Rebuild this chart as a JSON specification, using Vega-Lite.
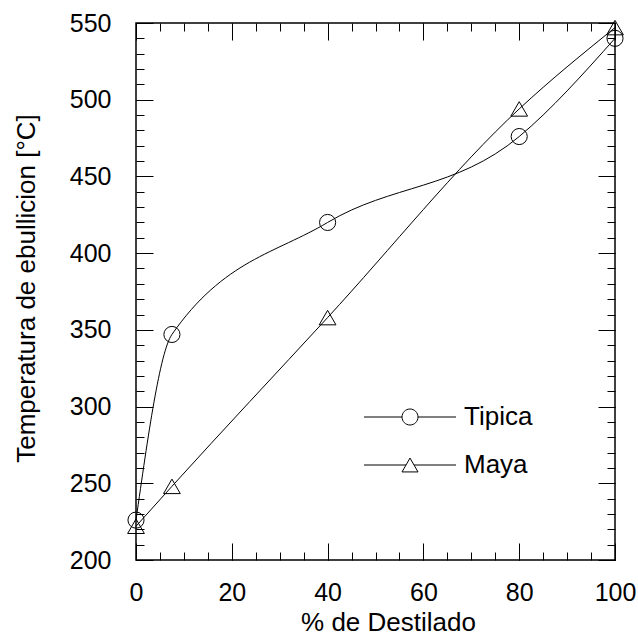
{
  "$schema": "https://vega.github.io/schema/vega-lite/v6.json",
  "width": 479,
  "height": 537,
  "autosize": {"type": "none"},
  "padding": {"left": 136, "top": 23, "right": 23, "bottom": 76},
  "background": "white",
  "config": {
    "font": "Liberation Sans",
    "view": {"stroke": "black", "strokeWidth": 1.5},
    "axis": {
      "domain": false, "grid": false, "tickColor": "black", "tickWidth": 1,
      "labelColor": "black", "titleColor": "black", "labelFontSize": 25,
      "titleFontSize": 26, "titleFontWeight": "normal", "labelFont": "Liberation Sans",
      "titleFont": "Liberation Sans", "labelFlush": false, "labelOverlap": false
    }
  },
  "data": {
    "values": [
      {"serie": "Tipica", "x": 0, "y": 226},
      {"serie": "Tipica", "x": 7.5, "y": 347},
      {"serie": "Tipica", "x": 40, "y": 420},
      {"serie": "Tipica", "x": 80, "y": 476},
      {"serie": "Tipica", "x": 100, "y": 540},
      {"serie": "Maya", "x": 0, "y": 222},
      {"serie": "Maya", "x": 7.5, "y": 248},
      {"serie": "Maya", "x": 40, "y": 358},
      {"serie": "Maya", "x": 80, "y": 494},
      {"serie": "Maya", "x": 100, "y": 547}
    ]
  },
  "resolve": {"axis": {"x": "independent", "y": "independent"}},
  "layer": [
    {
      "transform": [{"filter": "datum.serie == 'Tipica'"}],
      "mark": {"type": "line", "interpolate": "monotone", "color": "black", "strokeWidth": 1},
      "encoding": {
        "x": {"field": "x", "type": "quantitative", "scale": {"domain": [0, 100], "nice": false, "zero": false},
          "axis": {"orient": "bottom", "values": [0, 20, 40, 60, 80, 100], "tickSize": -17, "labelPadding": 37,
            "title": "% de Destilado", "titleX": 252, "titleY": 70, "titleBaseline": "alphabetic"}},
        "y": {"field": "y", "type": "quantitative", "scale": {"domain": [200, 550], "nice": false, "zero": false},
          "axis": {"orient": "left", "values": [200, 250, 300, 350, 400, 450, 500, 550], "tickSize": -17, "labelPadding": 42,
            "title": "Temperatura de ebullicion [°C]", "titleX": -102, "titleY": 265, "titleBaseline": "alphabetic"}}
      }
    },
    {
      "transform": [{"filter": "datum.serie == 'Maya'"}],
      "mark": {"type": "line", "interpolate": "monotone", "color": "black", "strokeWidth": 1},
      "encoding": {
        "x": {"field": "x", "type": "quantitative",
          "axis": {"orient": "bottom", "values": [0, 5, 10, 15, 20, 25, 30, 35, 40, 45, 50, 55, 60, 65, 70, 75, 80, 85, 90, 95, 100], "tickSize": -8, "labels": false, "title": null}},
        "y": {"field": "y", "type": "quantitative",
          "axis": {"orient": "left", "values": [200, 210, 220, 230, 240, 250, 260, 270, 280, 290, 300, 310, 320, 330, 340, 350, 360, 370, 380, 390, 400, 410, 420, 430, 440, 450, 460, 470, 480, 490, 500, 510, 520, 530, 540, 550], "tickSize": -8, "labels": false, "title": null}}
      }
    },
    {
      "transform": [{"filter": "datum.serie == 'Tipica'"}],
      "mark": {"type": "point", "shape": "circle", "filled": false, "stroke": "black", "strokeWidth": 1, "size": 260, "opacity": 1},
      "encoding": {
        "x": {"field": "x", "type": "quantitative",
          "axis": {"orient": "top", "values": [0, 20, 40, 60, 80, 100], "tickSize": -17, "labels": false, "title": null}},
        "y": {"field": "y", "type": "quantitative",
          "axis": {"orient": "right", "values": [200, 250, 300, 350, 400, 450, 500, 550], "tickSize": -17, "labels": false, "title": null}}
      }
    },
    {
      "transform": [{"filter": "datum.serie == 'Maya'"}],
      "mark": {"type": "point", "shape": "triangle-up", "filled": false, "stroke": "black", "strokeWidth": 1, "size": 280, "opacity": 1},
      "encoding": {
        "x": {"field": "x", "type": "quantitative",
          "axis": {"orient": "top", "values": [0, 5, 10, 15, 20, 25, 30, 35, 40, 45, 50, 55, 60, 65, 70, 75, 80, 85, 90, 95, 100], "tickSize": -8, "labels": false, "title": null}},
        "y": {"field": "y", "type": "quantitative",
          "axis": {"orient": "right", "values": [200, 210, 220, 230, 240, 250, 260, 270, 280, 290, 300, 310, 320, 330, 340, 350, 360, 370, 380, 390, 400, 410, 420, 430, 440, 450, 460, 470, 480, 490, 500, 510, 520, 530, 540, 550], "tickSize": -8, "labels": false, "title": null}}
      }
    },
    {
      "transform": [{"filter": "false"}],
      "mark": {"type": "point", "filled": false, "stroke": "black", "strokeWidth": 1, "size": 256, "opacity": 1},
      "encoding": {
        "shape": {"field": "serie", "type": "nominal",
          "scale": {"domain": ["Tipica", "Maya"], "range": ["M-5.75,0H-1M1,0H5.75M1,0A1,1,0,1,1,-1,0A1,1,0,1,1,1,0", "M-5.75,0H-0.5M0.5,0H5.75M0,-0.866L-1,0.866L1,0.866Z"]},
          "legend": {"orient": "none", "legendX": 261, "legendY": 381, "title": null, "labelFontSize": 26,
            "labelColor": "black", "labelFont": "Liberation Sans", "symbolSize": 256, "symbolStrokeColor": "black",
            "symbolFillColor": "transparent", "symbolStrokeWidth": 1, "symbolOpacity": 1, "labelOffset": 41, "rowPadding": 22, "padding": 0}}
      }
    }
  ]
}
